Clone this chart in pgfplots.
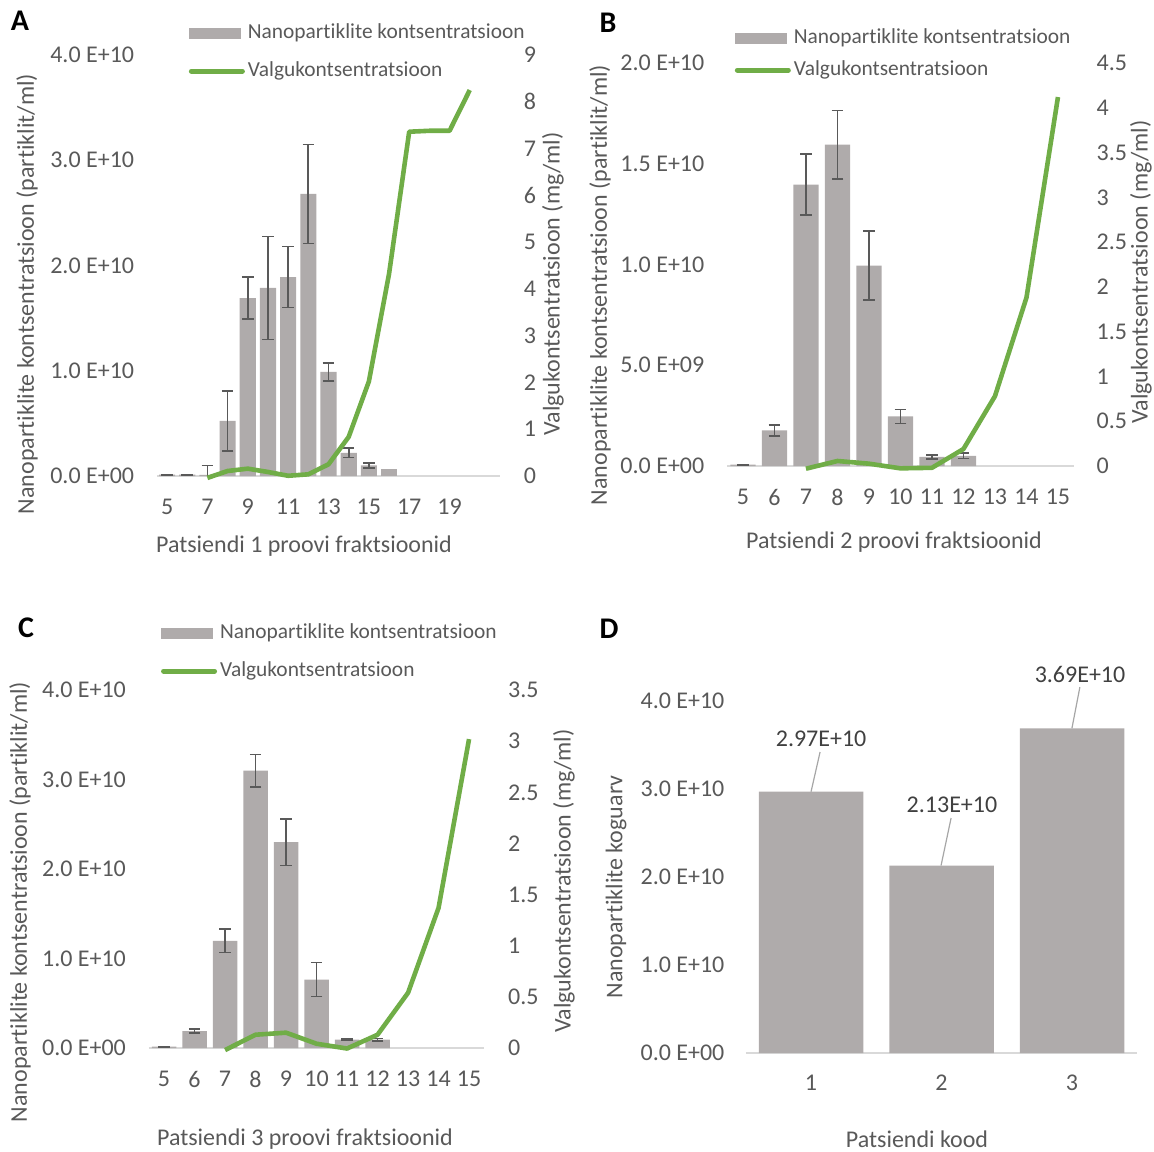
\documentclass[border=0pt]{standalone}
\usepackage{fontspec}
\setmainfont{Carlito}[Ligatures=NoCommon]
\usepackage{pgfplots}
\pgfplotsset{compat=1.18}
\usepackage{pgfplotstable}
\definecolor{barcol}{HTML}{AFABAB}
\definecolor{lincol}{HTML}{70AD47}
\definecolor{txt}{HTML}{595959}
\definecolor{axcol}{HTML}{D9D9D9}
\definecolor{errcol}{HTML}{595959}
\definecolor{lab}{HTML}{404040}
\definecolor{lead}{HTML}{A6A6A6}

\pgfplotstableread{
x y e
5 0.012e10 0.002e10
6 0.012e10 0.002e10
7 0.010e10 0.090e10
8 0.524e10 0.286e10
9 1.690e10 0.200e10
10 1.787e10 0.490e10
11 1.890e10 0.290e10
12 2.680e10 0.470e10
13 0.990e10 0.085e10
14 0.220e10 0.045e10
15 0.100e10 0.025e10
}\barsA
\pgfplotstableread{
x y
16 0.063e10
}\barsAb
\pgfplotstableread{
x y
7 -0.04
8 0.107
9 0.157
10 0.086
11 0.005
12 0.036
13 0.25
14 0.836
15 2.02
16 4.32
17 7.36
18 7.38
19 7.38
20 8.25
}\lineA

\pgfplotstableread{
x y e
5 0.007e10 0.001e10
6 0.177e10 0.027e10
7 1.397e10 0.150e10
8 1.595e10 0.170e10
9 0.995e10 0.170e10
10 0.246e10 0.035e10
11 0.045e10 0.010e10
12 0.050e10 0.013e10
}\barsB
\pgfplotstableread{
x y
7 -0.03
8 0.056
9 0.026
10 -0.026
11 -0.02
12 0.19
13 0.78
14 1.88
15 4.12
}\lineB

\pgfplotstableread{
x y e
5 0.015e10 0.002e10
6 0.190e10 0.020e10
7 1.198e10 0.130e10
8 3.100e10 0.180e10
9 2.300e10 0.260e10
10 0.765e10 0.190e10
11 0.093e10 0.010e10
12 0.093e10 0.015e10
}\barsC
\pgfplotstableread{
x y
7 -0.02
8 0.13
9 0.15
10 0.042
11 -0.005
12 0.13
13 0.54
14 1.37
15 3.02
}\lineC

\pgfplotstableread{
x y
1 2.97e10
2 2.13e10
3 3.69e10
}\barsD

\newcommand\tickfont{\fontsize{12}{14}\selectfont}
\newcommand\titlefont{\fontsize{12}{14}\selectfont}
\newcommand\legfont{\fontsize{10.7}{12}\selectfont}

\pgfplotsset{
  common/.style={
    scale only axis, anchor=south west,
    major tick length=0pt,
    tick style={draw=none},
    ticklabel style={font=\tickfont, text=txt, inner sep=0pt},
    /pgf/number format/assume math mode=true,
    scaled y ticks=false, scaled x ticks=false,
  },
  leftax/.style={common,
    axis x line*=bottom, axis y line*=left,
    x axis line style={draw=axcol, line width=0.8pt, -},
    y axis line style={draw=none},
    yticklabel style={anchor=east, xshift=-11.25pt},
    xticklabel style={anchor=center, yshift=-15.5pt},
    ybar, bar width=0.8, bar shift=0pt,
  },
  rightax/.style={common,
    axis y line*=right, axis x line=none,
    y axis line style={draw=none},
    yticklabel style={anchor=west, xshift=11.75pt},
    xtick=\empty, clip=false,
  },
  barsty/.style={fill=barcol, draw=none,
    error bars/.cd, y dir=both, y explicit,
    error bar style={draw=errcol, line width=0.85pt},
    error mark options={rotate=90, mark size=2.9pt, line width=0.85pt, draw=errcol}},
  linesty/.style={draw=lincol, line width=2.3pt, line join=round, no markers},
  barleg/.style={legend image code/.code={\fill[barcol] (0pt,-2.75pt) rectangle (26pt,2.75pt);}},
  lineleg/.style={legend image code/.code={\draw[lincol, line width=2.5pt, line cap=round] (1.25pt,0pt) -- (26.75pt,0pt);}},
  legsty/.style={legend cell align=left,
    legend style={draw=none, fill=none, inner sep=0pt, outer sep=0pt, anchor=west,
      font=\legfont, text=txt, column sep=1.5pt, row sep=#1,
      nodes={inner sep=0pt, text height=7.5pt, text depth=2.2pt, anchor=west}}},
}

\begin{document}
\begin{tikzpicture}
\path[use as bounding box] (0pt,0pt) rectangle (577pt,-575.5pt);

% ---------- Panel A ----------
\begin{axis}[leftax, at={(78.5pt,-238pt)}, width=171.5pt, height=210.5pt,
  xmin=4.5, xmax=21.5, ymin=0, ymax=4e10,
  xtick={5,7,9,11,13,15,17,19},
  ytick={0,1e10,2e10,3e10,4e10},
  yticklabels={0.0 E+00,1.0 E+10,2.0 E+10,3.0 E+10,4.0 E+10},
  legsty=9.3pt, legend style={at={(axis description cs:0.093,1.007)}}]
\addplot[barleg, barsty] table[x=x, y=y, y error=e] {\barsA};
\addlegendentry{Nanopartiklite kontsentratsioon}
\addplot[fill=barcol, draw=none, forget plot] table[x=x, y=y] {\barsAb};
\addlegendimage{lineleg}
\addlegendentry{Valgukontsentratsioon}
\end{axis}
\begin{axis}[rightax, at={(78.5pt,-238pt)}, width=171.5pt, height=210.5pt,
  xmin=4.5, xmax=21.5, ymin=0, ymax=9,
  ytick={0,1,2,3,4,5,6,7,8,9}]
\addplot[linesty] table[x=x, y=y] {\lineA};
\end{axis}

% ---------- Panel B ----------
\begin{axis}[leftax, at={(363.6pt,-233pt)}, width=173.25pt, height=201.5pt,
  xmin=4.5, xmax=15.5, ymin=0, ymax=2e10,
  xtick={5,6,...,15},
  ytick={0,0.5e10,1e10,1.5e10,2e10},
  yticklabels={0.0 E+00,5.0 E+09,1.0 E+10,1.5 E+10,2.0 E+10},
  legsty=6.3pt, legend style={at={(axis description cs:0.022,1.022)}}]
\addplot[barleg, barsty] table[x=x, y=y, y error=e] {\barsB};
\addlegendentry{Nanopartiklite kontsentratsioon}
\addlegendimage{lineleg}
\addlegendentry{Valgukontsentratsioon}
\end{axis}
\begin{axis}[rightax, at={(363.6pt,-233pt)}, width=173.25pt, height=201.5pt,
  xmin=4.5, xmax=15.5, ymin=0, ymax=4.5,
  ytick={0,0.5,1,1.5,2,2.5,3,3.5,4,4.5},
  yticklabel style={xshift=-0.5pt}]
\addplot[linesty] table[x=x, y=y] {\lineB};
\end{axis}

% ---------- Panel C ----------
\begin{axis}[leftax, at={(74.4pt,-524pt)}, width=167.75pt, height=179pt,
  xmin=4.5, xmax=15.5, ymin=0, ymax=4e10,
  xtick={5,6,...,15},
  ytick={0,1e10,2e10,3e10,4e10},
  yticklabels={0.0 E+00,1.0 E+10,2.0 E+10,3.0 E+10,4.0 E+10},
  legsty=9.3pt, legend style={at={(axis description cs:0.0365,1.106)}}]
\addplot[barleg, barsty] table[x=x, y=y, y error=e] {\barsC};
\addlegendentry{Nanopartiklite kontsentratsioon}
\addlegendimage{lineleg}
\addlegendentry{Valgukontsentratsioon}
\end{axis}
\begin{axis}[rightax, at={(74.4pt,-524pt)}, width=167.75pt, height=179pt,
  xmin=4.5, xmax=15.5, ymin=0, ymax=3.5,
  ytick={0,0.5,1,1.5,2,2.5,3,3.5}]
\addplot[linesty] table[x=x, y=y] {\lineC};
\end{axis}

% ---------- Panel D ----------
\begin{axis}[leftax, at={(372.9pt,-526.5pt)}, width=195.75pt, height=176pt,
  xmin=0.5, xmax=3.5, ymin=0, ymax=4e10, clip=false,
  xtick={1,2,3},
  ytick={0,1e10,2e10,3e10,4e10},
  yticklabels={0.0 E+00,1.0 E+10,2.0 E+10,3.0 E+10,4.0 E+10},
  yticklabel style={xshift=0.75pt},
  xticklabel style={yshift=0.5pt}]
\addplot[fill=barcol, draw=none] table[x=x, y=y] {\barsD};
\draw[lead, line width=0.6pt] (axis cs:1.0,2.97e10) -- (axis cs:1.069,3.42e10);
\draw[lead, line width=0.6pt] (axis cs:1.996,2.13e10) -- (axis cs:2.073,2.67e10);
\draw[lead, line width=0.6pt] (axis cs:2.999,3.69e10) -- (axis cs:3.06,4.159e10);
\node[font=\titlefont, text=lab] at (axis cs:1.077,3.568e10) {2.97E+10};
\node[font=\titlefont, text=lab] at (axis cs:2.08,2.818e10) {2.13E+10};
\node[font=\titlefont, text=lab] at (axis cs:3.061,4.307e10) {3.69E+10};
\end{axis}

% ---------- Titles and letters ----------
\begin{scope}[x=0.5pt,y=-0.5pt]
\tikzset{ttl/.style={font=\titlefont, text=txt, inner sep=0pt},
         let/.style={font=\fontsize{15}{17}\selectfont\bfseries, text=black, inner sep=0pt}}
\node[let] at (20,21) {A};
\node[let] at (608,23) {B};
\node[let] at (26,628) {C};
\node[let] at (609,629) {D};
\node[ttl] at (304,546) {Patsiendi 1 proovi fraktsioonid};
\node[ttl, rotate=90] at (27,294) {Nanopartiklite kontsentratsioon (partiklit/ml)};
\node[ttl, rotate=90] at (553,284) {Valgukontsentratsioon (mg/ml)};
\node[ttl] at (894,542) {Patsiendi 2 proovi fraktsioonid};
\node[ttl, rotate=90] at (600,285) {Nanopartiklite kontsentratsioon (partiklit/ml)};
\node[ttl, rotate=90] at (1141,272) {Valgukontsentratsioon (mg/ml)};
\node[ttl] at (305,1139) {Patsiendi 3 proovi fraktsioonid};
\node[ttl, rotate=90] at (20,902) {Nanopartiklite kontsentratsioon (partiklit/ml)};
\node[ttl, rotate=90] at (564,881) {Valgukontsentratsioon (mg/ml)};
\node[ttl] at (917,1139) {Patsiendi kood};
\node[ttl, rotate=90] at (616,887) {Nanopartiklite koguarv};
\end{scope}
\end{tikzpicture}
\end{document}
